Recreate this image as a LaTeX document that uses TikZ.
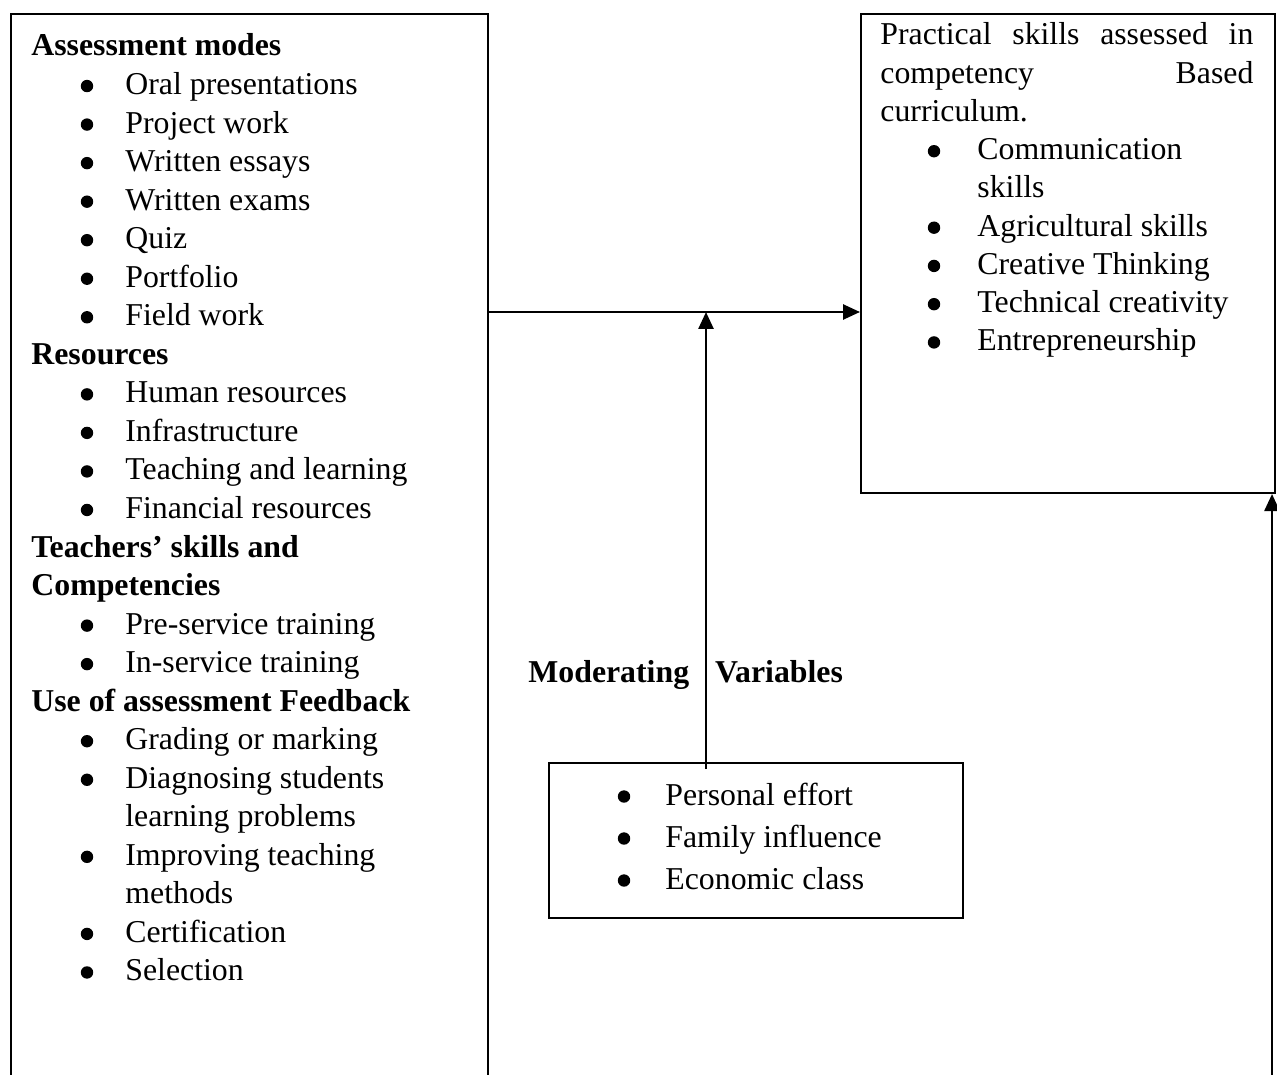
\documentclass[tikz,border=0pt]{standalone}
\usepackage{fontspec}
\setmainfont{Liberation Serif}
\usetikzlibrary{arrows.meta,positioning}
\newcommand{\itm}{\hspace*{47pt}}

\begin{document}
\begin{tikzpicture}[x=0.5pt,y=-0.5pt]
\tikzstyle{every node}+=[inner sep=0pt]
\tikzstyle{frame}=[draw=black, line width=1pt, anchor=north west]
\tikzstyle{txt}=[anchor=base west, align=flush left, font=\fontsize{15.9}{19.27}\selectfont]
\tikzstyle{arr}=[black, line width=1.3pt, -{Triangle[length=8.5pt,width=7.5pt]}]
\tikzstyle{dot}=[black]
\useasboundingbox (0,0) rectangle (1277,1074);
\clip (0,0) rectangle (1277,1074);
\node [frame, minimum width=238.5pt, minimum height=600pt] (inputs) at (10,13) {};
\node [frame, minimum width=207pt, minimum height=239.5pt] (skills) at (860,13) {};
\node [frame, minimum width=207pt, minimum height=77.5pt] (moder) at (548,762) {};
\node [txt, text width=225pt] (inputlist) at (31,56) {\textbf{Assessment modes}\\
\itm Oral presentations\\
\itm Project work\\
\itm Written essays\\
\itm Written exams\\
\itm Quiz\\
\itm Portfolio\\
\itm Field work\\
\textbf{Resources}\\
\itm Human resources\\
\itm Infrastructure\\
\itm Teaching and learning\\
\itm Financial resources\\
\textbf{Teachers’ skills and}\\
\textbf{Competencies}\\
\itm Pre-service training\\
\itm In-service training\\
\textbf{Use of assessment Feedback}\\
\itm Grading or marking\\
\itm Diagnosing students\\
\itm learning problems\\
\itm Improving teaching\\
\itm methods\\
\itm Certification\\
\itm Selection};
\node [txt, text width=186.5pt, font=\fontsize{15.9}{19.12}\selectfont] (skilllist) at (880,45) {\makebox[186.5pt][s]{Practical\hfil skills\hfil assessed\hfil in}\\
\makebox[186.5pt][s]{competency\hfil Based}\\
curriculum.\\
\hspace*{48.5pt}Communication\\
\hspace*{48.5pt}skills\\
\hspace*{48.5pt}Agricultural skills\\
\hspace*{48.5pt}Creative Thinking\\
\hspace*{48.5pt}Technical creativity\\
\hspace*{48.5pt}Entrepreneurship};
\node [txt, text width=150pt, font=\fontsize{15.9}{21}\selectfont] (moderlist) at (665,805) {Personal effort\\
Family influence\\
Economic class};
\node [txt, text width=200pt] (modlabel) at (528,682) {\textbf{Moderating}\hspace{13pt}\textbf{Variables}};
\foreach \k in {1,2,3,4,5,6,7,9,10,11,12,15,16,18,19,21,23,24}
  \fill [dot] (87,{56+38.54*\k-8.5}) circle [radius=3.1pt];
\foreach \k in {3,5,6,7,8}
  \fill [dot] (934,{45+38.24*\k-8.5}) circle [radius=3.1pt];
\foreach \k in {0,1,2}
  \fill [dot] (624,{805+42*\k-8.5}) circle [radius=3.1pt];
\coordinate (meet) at (706,312);
\coordinate (back) at (1272,1080);
\draw [arr] (inputs.east |- meet) -- (skills.west |- meet);
\draw [arr, shorten <=-3.5pt] (meet |- moder.north) -- (meet);
\draw [arr] (back) -- (back |- skills.south);
\end{tikzpicture}
\end{document}
